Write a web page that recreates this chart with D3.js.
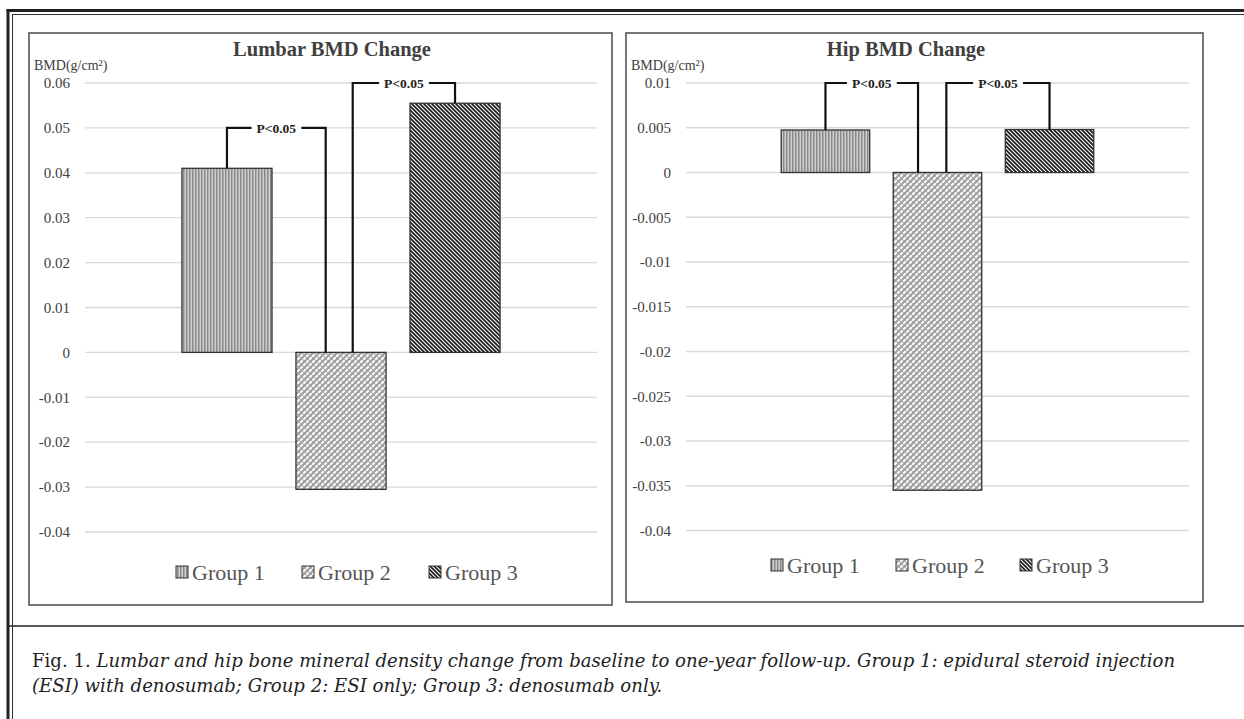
<!DOCTYPE html>
<html>
<head>
<meta charset="utf-8">
<script src="https://cdn.jsdelivr.net/npm/d3@7"></script>
<style>
  body { margin:0; background:#fff; }
  svg { display:block; }
</style>
</head>
<body>
<svg id="fig" width="1244" height="719"></svg>
<script>
// data
const groups = ['Group 1', 'Group 2', 'Group 3'];
const lumbarValues = [0.041, -0.0305, 0.0555];
const hipValues = [0.00475, -0.0355, 0.0048];
const lumbarTicks = [0.06, 0.05, 0.04, 0.03, 0.02, 0.01, 0, -0.01, -0.02, -0.03, -0.04];
const hipTicks = [0.01, 0.005, 0, -0.005, -0.01, -0.015, -0.02, -0.025, -0.03, -0.035, -0.04];
// comparisons: [from, to, level]
const lumbarPairs = [[0, 1, 0.05], [1, 2, 0.06]];
const hipPairs = [[0, 1, 0.01], [1, 2, 0.01]];
const pLabel = 'P<0.05';

const svg = d3.select('#fig');
const serif = '"Liberation Serif", "Times New Roman", serif';

// patterns (excel-like fills)
const defs = svg.append('defs');
let p = defs.append('pattern').attr('id','pat1').attr('patternUnits','userSpaceOnUse').attr('width',3).attr('height',3);
p.append('rect').attr('width',3).attr('height',3).attr('fill','#cfcfcf');
p.append('rect').attr('x',0).attr('width',1.5).attr('height',3).attr('fill','#8a8a8a');

// dashed upward diagonal
p = defs.append('pattern').attr('id','pat2').attr('patternUnits','userSpaceOnUse').attr('width',6).attr('height',6);
p.append('rect').attr('width',6).attr('height',6).attr('fill','#a2a2a2');
p.append('path').attr('d','M0.3,2.7 L2.7,0.3 M3.3,5.7 L5.7,3.3').attr('stroke','#fdfdfd').attr('stroke-width',2.1).attr('stroke-linecap','butt');

p = defs.append('pattern').attr('id','pat3').attr('patternUnits','userSpaceOnUse').attr('width',4).attr('height',4);
p.append('rect').attr('width',4).attr('height',4).attr('fill','#fff');
p.append('path').attr('d','M-1,-1 L5,5 M-1,3 L1,5 M3,-1 L5,1').attr('stroke','#1a1a1a').attr('stroke-width',1.7);
const fills = ['url(#pat1)', 'url(#pat2)', 'url(#pat3)'];

// outer frame
svg.append('line').attr('x1',8).attr('x2',8).attr('y1',9).attr('y2',719).attr('stroke','#222').attr('stroke-width',3);
svg.append('line').attr('x1',12.5).attr('x2',12.5).attr('y1',14).attr('y2',719).attr('stroke','#333').attr('stroke-width',1);
svg.append('line').attr('x1',6.5).attr('x2',1244).attr('y1',10.5).attr('y2',10.5).attr('stroke','#222').attr('stroke-width',3);
svg.append('line').attr('x1',12).attr('x2',1244).attr('y1',14.5).attr('y2',14.5).attr('stroke','#333').attr('stroke-width',1);
svg.append('line').attr('x1',8).attr('x2',1244).attr('y1',626).attr('y2',626).attr('stroke','#222').attr('stroke-width',1.5);

function panel(cfg){
  const g = svg.append('g');
  g.append('rect').attr('x',cfg.box[0]).attr('y',cfg.box[1]).attr('width',cfg.box[2]-cfg.box[0]).attr('height',cfg.box[3]-cfg.box[1])
    .attr('fill','none').attr('stroke','#555').attr('stroke-width',1.6);

  const y = d3.scaleLinear().domain([cfg.ticks[cfg.ticks.length-1], cfg.ticks[0]]).range([cfg.bottom, cfg.top]);
  const x = d3.scaleBand().domain(groups).range([cfg.left, cfg.right]).paddingInner(0.21).paddingOuter(0.85);

  // gridlines + tick labels
  g.selectAll('.grid').data(cfg.ticks).enter().append('line')
    .attr('x1',cfg.left).attr('x2',cfg.right)
    .attr('y1',d=>y(d)).attr('y2',d=>y(d))
    .attr('stroke','#d9d9d9').attr('stroke-width',1.3);
  g.selectAll('.tl').data(cfg.ticks).enter().append('text')
    .attr('x',cfg.left-15).attr('y',d=>y(d)).attr('dy','0.35em')
    .attr('text-anchor','end').attr('font-family',serif).attr('font-size',15).attr('fill','#404040')
    .text(d=>String(+d.toFixed(cfg.dec)));

  // bars
  g.selectAll('.bar').data(cfg.values).enter().append('rect')
    .attr('x',(d,i)=>x(groups[i])).attr('width',x.bandwidth())
    .attr('y',d=>y(Math.max(0,d))).attr('height',d=>Math.abs(y(d)-y(0)))
    .attr('fill',(d,i)=>fills[i]).attr('stroke','#333').attr('stroke-width',1.3);

  // significance brackets
  cfg.pairs.forEach((pr, k)=>{
    const [a, b, lev] = pr;
    const legX = i => {
      const c = x(groups[i]) + x.bandwidth()/2;
      if (i === 1) return c + cfg.mid[k] * x.bandwidth();
      return c;
    };
    const legY = i => cfg.values[i] > 0 ? y(cfg.values[i]) : y(0);
    const x1 = legX(a), x2 = legX(b), yl = y(lev);
    g.append('path')
      .attr('d',`M${x1},${legY(a)} V${yl} H${x2} V${legY(b)}`)
      .attr('fill','none').attr('stroke','#111').attr('stroke-width',2.2);
    const t = g.append('text').attr('x',(x1+x2)/2).attr('y',yl).attr('dy','0.35em')
      .attr('text-anchor','middle').attr('font-family',serif).attr('font-weight','bold')
      .attr('font-size',13.5).attr('fill','#222').text(pLabel);
    const bb = t.node().getBBox();
    g.insert('rect', 'text:last-of-type').attr('x',bb.x-5).attr('y',yl-3).attr('width',bb.width+10).attr('height',6).attr('fill','#fff');
  });

  // titles
  g.append('text').attr('x',cfg.titleX).attr('y',cfg.box[1]+23).attr('text-anchor','middle')
    .attr('font-family',serif).attr('font-weight','bold').attr('font-size',20.5).attr('fill','#404040').text(cfg.title);
  g.append('text').attr('x',cfg.box[0]+5).attr('y',cfg.top-13)
    .attr('font-family',serif).attr('font-size',14).attr('fill','#404040').text('BMD(g/cm²)');

  // legend
  const lg = g.append('g').attr('transform',`translate(0,${cfg.legendY})`);
  groups.forEach((gr,i)=>{
    const lx = cfg.legendX[i];
    lg.append('rect').attr('x',lx).attr('y',-6).attr('width',12).attr('height',12)
      .attr('fill',fills[i]).attr('stroke','#333').attr('stroke-width',1);
    lg.append('text').attr('x',lx+16).attr('y',0).attr('dy','0.35em')
      .attr('font-family',serif).attr('font-size',22).attr('fill','#555').text(gr);
  });
}

panel({title:'Lumbar BMD Change', box:[29,33,612,605], top:83, bottom:532, left:85, right:597,
  ticks:lumbarTicks, values:lumbarValues, pairs:lumbarPairs, dec:2, mid:[-0.17, 0.13],
  titleX:332, legendY:572, legendX:[176, 302, 429]});
panel({title:'Hip BMD Change', box:[626,33,1203,602], top:83, bottom:530.5, left:686, right:1189,
  ticks:hipTicks, values:hipValues, pairs:hipPairs, dec:3, mid:[-0.22, 0.1],
  titleX:906, legendY:565, legendX:[771, 896, 1020]});

// caption
const cap = svg.append('g').attr('font-family','"DejaVu Serif", serif').attr('fill','#222');
const l1 = cap.append('text').attr('x',32).attr('y',667).attr('font-size',16);
l1.append('tspan').text('Fig. 1. ');
l1.append('tspan').attr('font-style','italic').text('Lumbar and hip bone mineral density change from baseline to one-year follow-up. Group 1: epidural steroid injection');
const w = l1.node().getComputedTextLength();
const fs = 16 * 1144 / w;
l1.attr('font-size', fs);
cap.append('text').attr('x',32).attr('y',692).attr('font-size',fs).attr('font-style','italic')
  .text('(ESI) with denosumab; Group 2: ESI only; Group 3: denosumab only.');
</script>
</body>
</html>
